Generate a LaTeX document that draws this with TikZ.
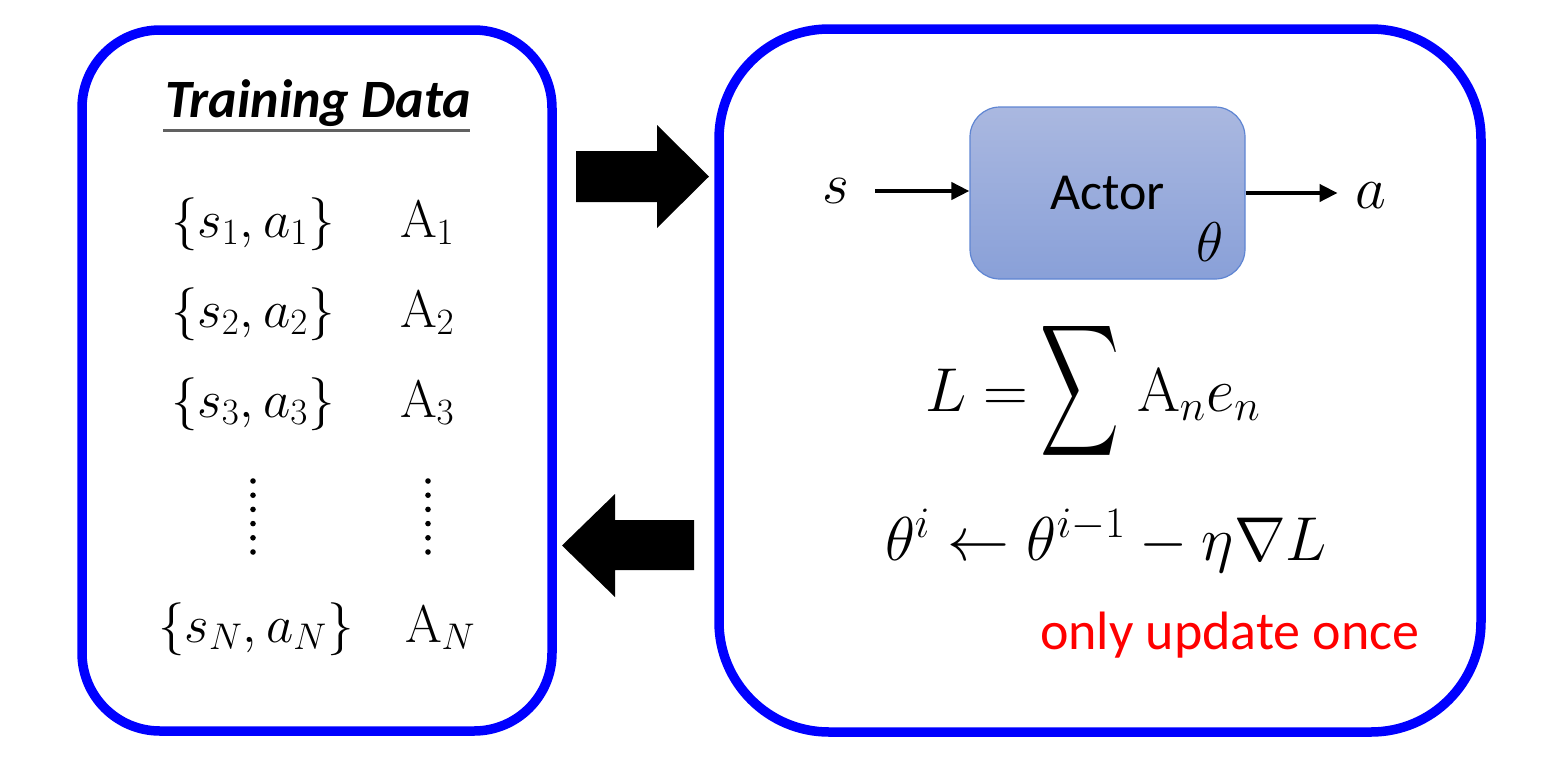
\RequirePackage{fix-cm}
\documentclass[tikz,border=0pt]{standalone}
\usepackage{exscale}
\usepackage{fontspec}
\usepackage{graphicx}
\newfontfamily\calibri{Carlito}
\usetikzlibrary{arrows.meta}
\definecolor{boxblue}{RGB}{0,0,255}
\definecolor{actortop}{RGB}{170,184,224}
\definecolor{actorbot}{RGB}{137,160,216}
\definecolor{actorborder}{RGB}{95,133,210}
\definecolor{notered}{RGB}{255,0,0}
\begin{document}
\begin{tikzpicture}[x=0.5pt,y=-0.5pt,
  panel/.style={draw=boxblue,line width=4.75pt,inner sep=0pt},
  txt/.style={inner sep=0pt,outer sep=0pt},
  rowmath/.style={txt,font=\fontsize{26.5}{30}\selectfont},
  bigmath/.style={txt,font=\fontsize{31}{36}\selectfont},
  conn/.style={line width=2pt,-{Triangle[length=9pt,width=8.5pt]}},
  blockarrow/.style={fill=black},
  dotmark/.style={fill=black}]
\useasboundingbox (0,0) rectangle (1544,762);

% panels
\node[panel,rounded corners=39pt,minimum width=235pt,minimum height=350.5pt] (data) at (317,380.5) {};
\node[panel,rounded corners=55pt,minimum width=381pt,minimum height=351.5pt] (model) at (1100,380.5) {};

% title
\node[txt,anchor=base west,font=\calibri\bfseries\itshape\fontsize{27}{32}\selectfont] (title) at (165,117) {Training Data};
\draw[line width=1.5pt,color=black!62] (163,130) -- (470,130);

% rows
\node[rowmath,anchor=base] (p1) at (253,237) {$\{s_1, a_1\}$};
\node[rowmath,anchor=base west] (A1) at (400,237) {$\mathrm{A}_1$};
\node[rowmath,anchor=base] (p2) at (253,327) {$\{s_2, a_2\}$};
\node[rowmath,anchor=base west] (A2) at (400,327) {$\mathrm{A}_2$};
\node[rowmath,anchor=base] (p3) at (253,417) {$\{s_3, a_3\}$};
\node[rowmath,anchor=base west] (A3) at (400,417) {$\mathrm{A}_3$};
\node[rowmath,anchor=base] (pN) at (256,642) {$\{s_N, a_N\}$};
\node[rowmath,anchor=base west] (AN) at (405,642) {$\mathrm{A}_N$};
\foreach \x in {253,428}
  \foreach \k in {0,...,5}
    \fill[dotmark] (\x,{481+14.2*\k}) circle (1.4pt);

% block arrows
\fill[blockarrow] (576,151) -- (657,151) -- (657,125) -- (709,176.5) -- (657,228) -- (657,202) -- (576,202) -- cycle;
\fill[blockarrow] (694,520) -- (615,520) -- (615,494) -- (562,545.5) -- (615,597) -- (615,570) -- (694,570) -- cycle;

% actor
\node[draw=actorborder,line width=0.6pt,rounded corners=15pt,top color=actortop,bottom color=actorbot,
      minimum width=137.5pt,minimum height=86pt,inner sep=0pt,
      font=\calibri\fontsize{26}{30}\selectfont] (actor) at (1107.5,193) {Actor};
\node[txt,font=\fontsize{28}{32}\selectfont] (theta) at (1210,242) {$\theta$};
\node[txt,font=\fontsize{29}{32}\selectfont] (s) at (836,191) {$s$};
\node[txt,font=\fontsize{30}{32}\selectfont] (a) at (1371,196) {$a$};
\draw[conn] ([xshift=13pt]s.east) -- (s.east -| actor.west);
\draw[conn] (actor.east) -- ([xshift=-9pt]a.west |- actor.east);

% formulas
\node[bigmath,anchor=base west] (Leq) at (925,411) {$L =$};
\node[bigmath] (sum) at (1080,391) {\scalebox{1.1}[1.85]{$\displaystyle\sum$}};
\node[bigmath,anchor=base west] (Ae) at (1137,411) {$\mathrm{A}_n e_n$};
\node[bigmath,anchor=base west] (upd) at (885,560) {$\theta^{i} \leftarrow \theta^{i-1} - \eta\nabla L$};
\node[txt,anchor=base west,text=notered,font=\calibri\fontsize{27}{30}\selectfont] (note) at (1040,649) {only update once};
\end{tikzpicture}
\end{document}
